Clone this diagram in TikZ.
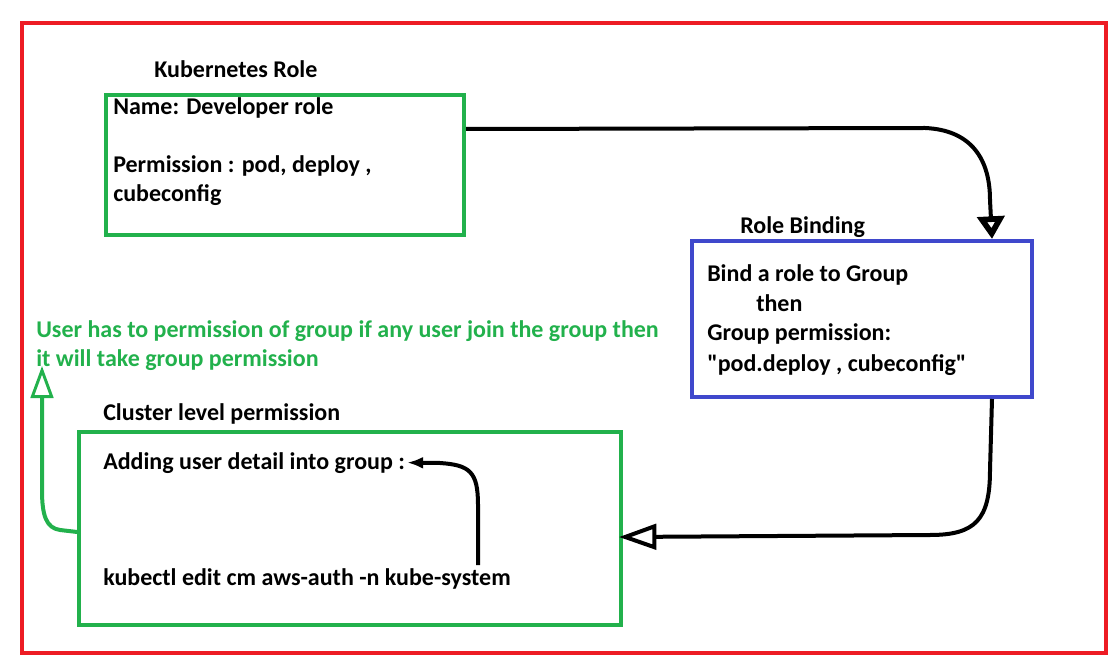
\documentclass[tikz,border=0pt]{standalone}
\usepackage{fontspec}
\setmainfont{Carlito}
\usetikzlibrary{arrows.meta}
\definecolor{framered}{RGB}{237,28,36}
\definecolor{paintgreen}{RGB}{34,177,76}
\definecolor{paintblue}{RGB}{63,72,204}

\begin{document}
\begin{tikzpicture}[x=0.75pt, y=-0.75pt, font=\fontsize{18}{21}\selectfont\bfseries,
    panel/.style={draw, line width=3pt, anchor=north west, inner sep=0pt},
    txt/.style={anchor=base west, inner sep=0pt},
    flow/.style={line width=3pt, -{Triangle[open, length=17pt, width=20pt, line width=4.6pt]}},
    backflow/.style={line width=3pt, -{Triangle[open, length=28pt, width=19pt, line width=3pt]}}]
        \useasboundingbox (0,0) rectangle (1120,666);
        % outer frame
        \draw [framered, line width=3.4pt] (22,23) rectangle (1106,653);
        % kubernetes role
        \node [panel, draw=paintgreen, minimum width=268.5pt, minimum height=105pt] (krole) at (104,93) {};
        \node [txt] (kroletitle) at (154,78) {Kubernetes Role};
        \node [txt] (kname) at (113,115) {Name: Developer role};
        \node [txt] (kperm) at (113,173) {Permission : pod, deploy ,};
        \node [txt] (kcube) at (113,202) {cubeconfig};
        % role binding
        \node [panel, draw=paintblue, minimum width=255pt, minimum height=117pt] (rb) at (690,239) {};
        \node [txt] (rbtitle) at (740,234) {Role Binding};
        \node [txt] (rbbind) at (707,282) {Bind a role to Group};
        \node [txt] (rbthen) at (756,312) {then};
        \node [txt] (rbgroup) at (707,340) {Group permission:};
        \node [txt] (rbperm) at (707,372) {\textquotedbl pod.deploy , cubeconfig\textquotedbl};
        % note
        \node [txt, paintgreen] (note1) at (36,338) {User has to permission of group if any user join the group then};
        \node [txt, paintgreen] (note2) at (36,367) {it will take group permission};
        \coordinate (notetip) at (42,366);
        % cluster level
        \node [panel, draw=paintgreen, minimum width=406.5pt, minimum height=144.75pt] (cl) at (77,430) {};
        \node [txt] (cltitle) at (103,420) {Cluster level permission};
        \node [txt] (add) at (103,469) {Adding user detail into group :};
        \node [txt] (cmd) at (103,585) {kubectl edit cm aws-auth -n kube-system};
        \coordinate (cmdtop) at (478,565);
        % arrows
        \draw [flow] ([yshift=27pt]krole.east) -- (925,128) .. controls (972,130) and (990,160) .. (990,200) -- ([xshift=97.5pt]rb.north);
        \draw [backflow] ([xshift=97.5pt]rb.south) -- (990,470) .. controls (990,520) and (975,535) .. (930,535) -- ([yshift=-6.4pt,xshift=-3pt]cl.east);
        \draw [paintgreen, line width=3pt, -{Triangle[open, length=24pt, width=17pt, line width=2.2pt]}] ([yshift=-2.6pt]cl.west) -- (60,530) .. controls (46,528) and (42,515) .. (42,490) -- (notetip);
        \draw [line width=3pt, -{Latex[length=12pt, width=9pt]}] (cmdtop) -- (478,505) .. controls (478,472) and (470,465) .. (440,463) -- ([xshift=1.5pt]add.east);
\end{tikzpicture}
\end{document}
